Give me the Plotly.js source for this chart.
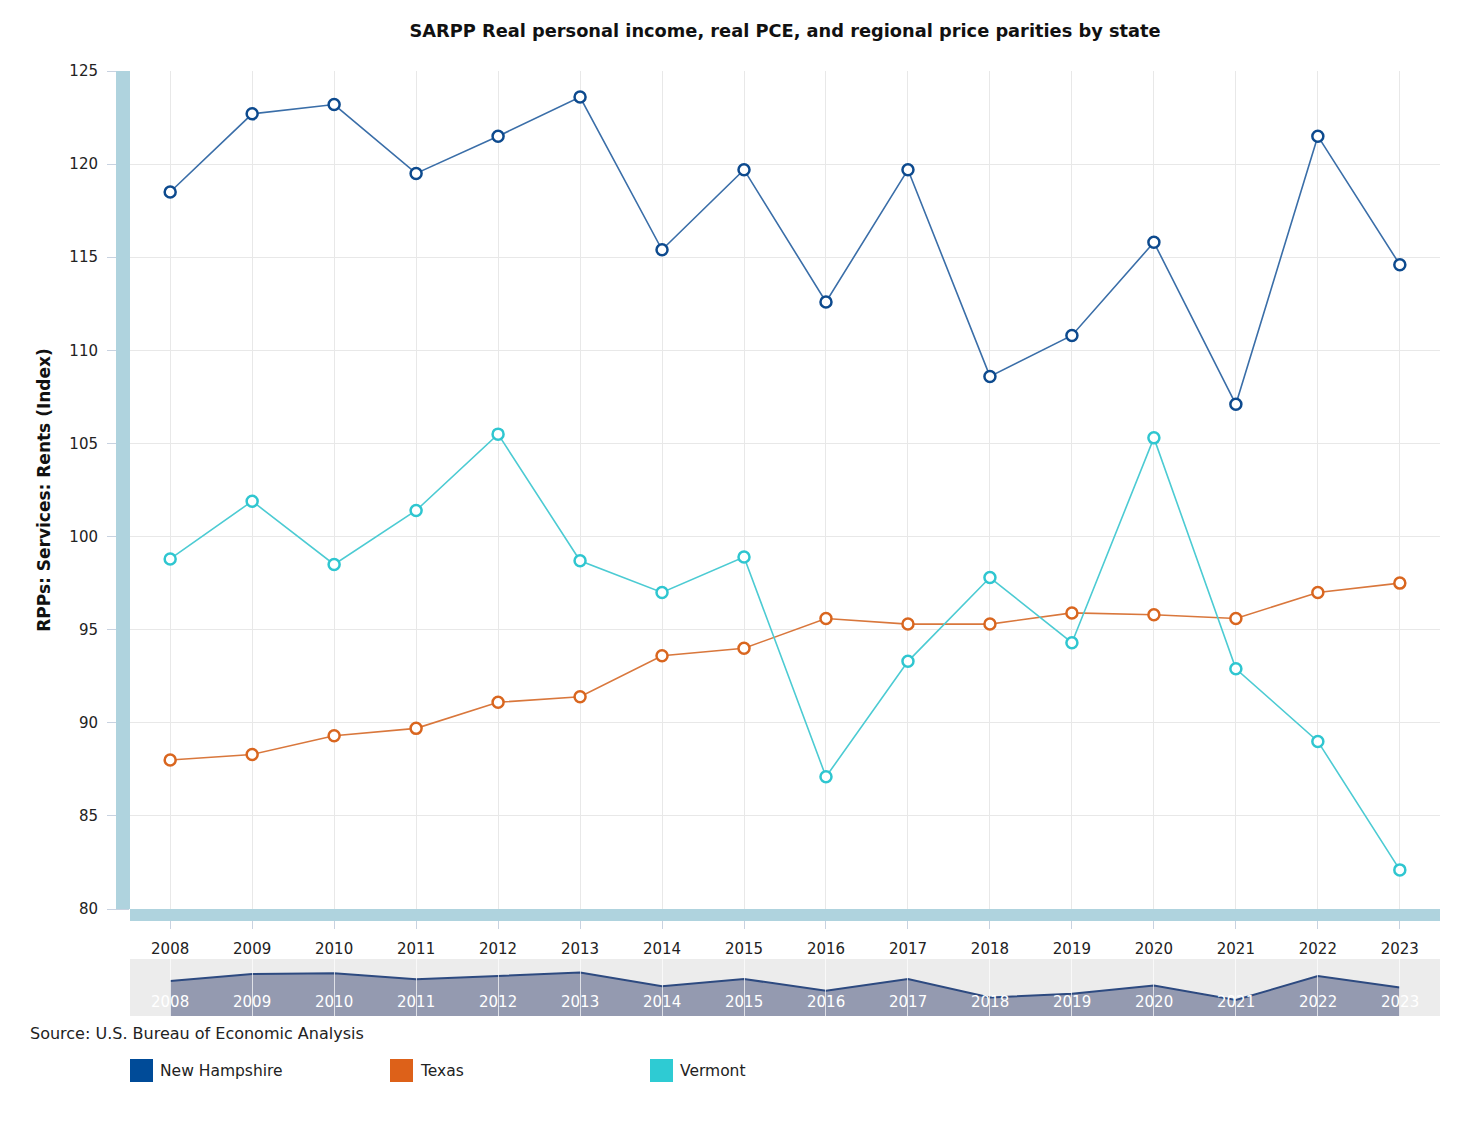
<!DOCTYPE html>
<html>
<head>
<meta charset="utf-8">
<script src="https://cdn.plot.ly/plotly-3.0.1.min.js"></script>
<style>
  html, body { margin: 0; padding: 0; background: #fff; }
  #chart { width: 1468px; height: 1125px; }
</style>
</head>
<body>
<div id="chart"></div>
<script>
// RPPs: Services: Rents (Index) — 3개 주 비교 + 하단 navigator (NH만 area).

const YEARS = [2008, 2009, 2010, 2011, 2012, 2013, 2014, 2015, 2016, 2017, 2018, 2019, 2020, 2021, 2022, 2023];

const NEW_HAMPSHIRE = [118.5, 122.7, 123.2, 119.5, 121.5, 123.6, 115.4, 119.7, 112.6, 119.7, 108.6, 110.8, 115.8, 107.1, 121.5, 114.6];
const TEXAS = [88.0, 88.3, 89.3, 89.7, 91.1, 91.4, 93.6, 94.0, 95.6, 95.3, 95.3, 95.9, 95.8, 95.6, 97.0, 97.5];
const VERMONT = [98.8, 101.9, 98.5, 101.4, 105.5, 98.7, 97.0, 98.9, 87.1, 93.3, 97.8, 94.3, 105.3, 92.9, 89.0, 82.1];

const SERIES_NAMES = ['New Hampshire', 'Texas', 'Vermont'];
const Y_TICKS = [80, 85, 90, 95, 100, 105, 110, 115, 120, 125];

const TITLE = 'SARPP Real personal income, real PCE, and regional price parities by state';
const Y_TITLE = 'RPPs: Services: Rents (Index)';
const SOURCE = 'Source: U.S. Bureau of Economic Analysis';

const FONT = 'Verdana, "DejaVu Sans", sans-serif';
const COLORS = {
  line: ['#3a6ea8', '#d9773c', '#4ccbd3'],
  marker: ['#0d4a8e', '#d9661f', '#2fc6d0'],
  swatch: ['#004b98', '#dd6119', '#2ecbd3'],
  text: '#222',
  grid: '#e8e8e8',
  bar: '#afd3de',
  tick: '#c8d2e0',
  navBg: '#ececec',
  navFill: 'rgba(48,62,108,0.47)',
  navLine: '#2d4a80',
};

// 메인 플롯 영역: x 130~1440, y 71~909 / navigator: y 959~1016
const W = 1468, H = 1125;
const M = { l: 130, r: 28, t: 71, b: 109 };
const plotW = W - M.l - M.r;
const plotH = H - M.t - M.b;
const mainDomain = [(1016 - 909) / plotH, 1];
const navDomain = [0, (1016 - 959) / plotH];
const X_RANGE = [YEARS[0] - 0.49, YEARS[YEARS.length - 1] + 0.49];

// 픽셀 → paper 좌표
const fx = (p) => (p - M.l) / plotW;
const fy = (p) => ((H - M.b) - p) / plotH;

const values = [NEW_HAMPSHIRE, TEXAS, VERMONT];

const traces = values.map((v, i) => ({
  x: YEARS, y: v, name: SERIES_NAMES[i], type: 'scatter', mode: 'lines+markers',
  line: { color: COLORS.line[i], width: 1.6 },
  marker: { symbol: 'circle', size: 11, color: '#fff', line: { color: COLORS.marker[i], width: 2.5 } },
  xaxis: 'x', yaxis: 'y', showlegend: false, hoverinfo: 'x+y+name',
}));

// navigator area (NH)
traces.push({
  x: YEARS, y: NEW_HAMPSHIRE, type: 'scatter', mode: 'lines', fill: 'tozeroy',
  fillcolor: COLORS.navFill, line: { color: COLORS.navLine, width: 2 },
  xaxis: 'x2', yaxis: 'y2', showlegend: false, hoverinfo: 'skip',
});

const shapes = [
  // navigator 배경
  { type: 'rect', xref: 'x2 domain', yref: 'y2 domain', x0: 0, x1: 1, y0: 0, y1: 1, fillcolor: COLORS.navBg, line: { width: 0 }, layer: 'below' },
  // 왼쪽 두꺼운 축선
  { type: 'rect', xref: 'paper', yref: 'y domain', x0: fx(116), x1: 0, y0: 0, y1: 1, fillcolor: COLORS.bar, line: { width: 0 }, layer: 'above' },
  // 아래 두꺼운 축선
  { type: 'rect', xref: 'paper', yref: 'paper', x0: 0, x1: 1, y0: fy(921), y1: fy(909), fillcolor: COLORS.bar, line: { width: 0 }, layer: 'above' },
];

const annotations = [
  { text: SOURCE, xref: 'paper', yref: 'paper', x: fx(28), xanchor: 'left', y: fy(1033), yanchor: 'middle', showarrow: false, font: { family: FONT, size: 16, color: COLORS.text } },
];

// navigator 안쪽 흰 연도 라벨
YEARS.forEach((yr) => {
  annotations.push({ text: String(yr), xref: 'x2', yref: 'paper', x: yr, xanchor: 'center', y: fy(1002), yanchor: 'middle', showarrow: false, font: { family: FONT, size: 15, color: '#fff' } });
});

// 하단 범례: 사각 스와치 + 이름
SERIES_NAMES.forEach((name, i) => {
  const px = 130 + i * 260;
  shapes.push({ type: 'rect', xref: 'paper', yref: 'paper', x0: fx(px), x1: fx(px + 23), y0: fy(1082), y1: fy(1059), fillcolor: COLORS.swatch[i], line: { width: 0 } });
  annotations.push({ text: name, xref: 'paper', yref: 'paper', x: fx(px + 28), xanchor: 'left', y: fy(1071), yanchor: 'middle', showarrow: false, font: { family: FONT, size: 15.5, color: COLORS.text } });
});

const layout = {
  width: W, height: H,
  margin: M,
  paper_bgcolor: '#fff', plot_bgcolor: 'rgba(0,0,0,0)',
  font: { family: FONT, color: COLORS.text, size: 15 },
  title: { text: TITLE, x: 0.5, xref: 'paper', xanchor: 'center', y: 1 - 31 / H, yanchor: 'middle', font: { family: FONT, size: 17.8, color: '#111', weight: 'bold' } },
  xaxis: {
    domain: [0, 1], anchor: 'y', range: X_RANGE, tickmode: 'array', tickvals: YEARS, ticktext: YEARS.map(String),
    showgrid: true, gridcolor: COLORS.grid, gridwidth: 1, zeroline: false, showline: false,
    ticks: 'outside', ticklen: 19, tickcolor: COLORS.tick, tickwidth: 1, ticklabelstandoff: 7,
    tickfont: { family: FONT, size: 15, color: COLORS.text }, fixedrange: true,
  },
  yaxis: {
    domain: mainDomain, anchor: 'x', range: [80, 125], tickmode: 'array', tickvals: Y_TICKS,
    showgrid: true, gridcolor: COLORS.grid, gridwidth: 1, zeroline: false, showline: false,
    ticks: 'outside', ticklen: 22, tickcolor: COLORS.tick, tickwidth: 1, ticklabelstandoff: 6,
    tickfont: { family: FONT, size: 15, color: COLORS.text },
    title: { text: Y_TITLE, standoff: 14, font: { family: FONT, size: 17, color: '#111', weight: 'bold' } },
    fixedrange: true,
  },
  xaxis2: {
    domain: [0, 1], anchor: 'y2', range: X_RANGE, tickmode: 'array', tickvals: YEARS,
    showgrid: false, zeroline: false, showline: false, showticklabels: false,
    ticks: 'inside', ticklen: 57, tickcolor: 'rgba(255,255,255,0.7)', tickwidth: 1,
    layer: 'above traces', fixedrange: true,
  },
  yaxis2: {
    domain: navDomain, anchor: 'x2', range: [97.5, 131.7],
    showgrid: false, zeroline: false, showline: false, showticklabels: false, ticks: '', fixedrange: true,
  },
  shapes, annotations,
  showlegend: false,
  hovermode: 'closest',
};

Plotly.newPlot('chart', traces, layout, { displayModeBar: false, responsive: false });
</script>
</body>
</html>
